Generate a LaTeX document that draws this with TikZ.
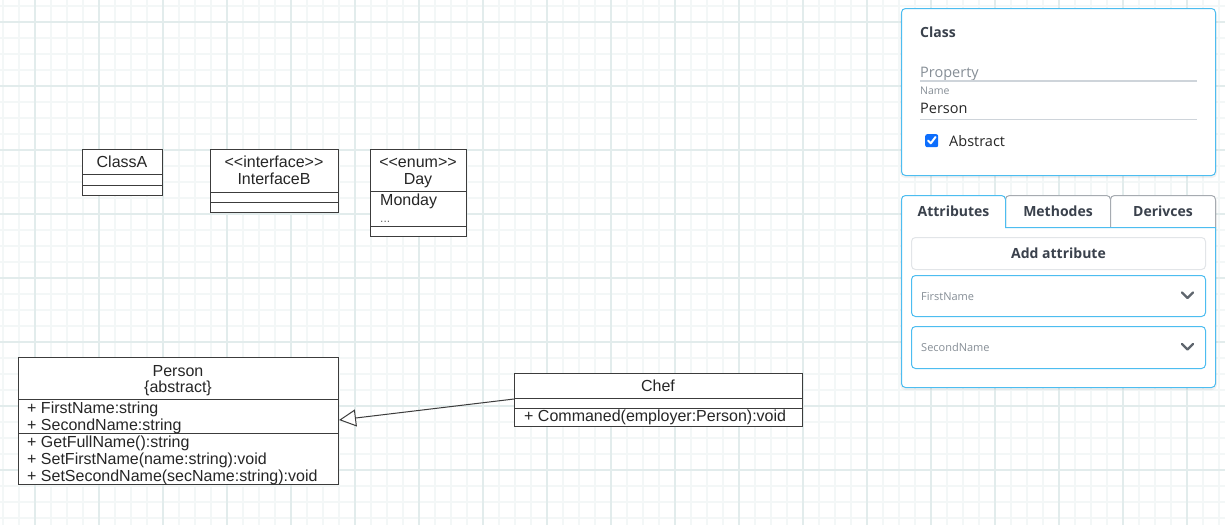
\documentclass[tikz,border=0pt]{standalone}
\usepackage{fontspec}
\setmainfont{Liberation Sans}
\newfontfamily\uifont{Open Sans}
\usetikzlibrary{arrows.meta}
\definecolor{gridminor}{HTML}{F3F7F7}
\definecolor{gridmajor}{HTML}{E2ECEC}
\definecolor{umlgray}{HTML}{3C3C3C}
\definecolor{cardblue}{HTML}{4DBDF0}
\definecolor{tabgray}{HTML}{A6ABB1}
\definecolor{uidark}{HTML}{3A414C}
\definecolor{uigray}{HTML}{868E96}
\definecolor{uiline}{HTML}{CED4DA}
\definecolor{btnline}{HTML}{E2E5E8}
\definecolor{chkblue}{HTML}{0D6EFD}
\definecolor{chevron}{HTML}{5F666E}
\tikzset{
  umlbox/.style={draw=umlgray, line width=1, fill=white, inner sep=0, anchor=north west},
  umlline/.style={draw=umlgray, line width=1},
  umltext/.style={inner sep=0, font=\fontsize{16}{17}\selectfont, text=black!85},
  card/.style={draw=cardblue, line width=1, fill=white, rounded corners=4},
  uitext/.style={inner sep=0, text=uidark, font=\uifont\fontsize{14}{16}\selectfont},
  uibold/.style={uitext, font=\uifont\bfseries\fontsize{14}{16}\selectfont},
  chev/.style={draw=chevron, line width=2.4, line cap=round, line join=round}
}
\begin{document}
\begin{tikzpicture}[x=1pt,y=-1pt]
\useasboundingbox (0,0) rectangle (1225,525);
\fill[white] (0,0) rectangle (1225,525);
% grid
\foreach \x in {3,19,...,1225} \draw[gridminor, line width=1.2] (\x,0) -- (\x,525);
\foreach \y in {6,22,...,525} \draw[gridminor, line width=1.2] (0,\y) -- (1225,\y);
\foreach \x in {35,99,...,1225} \draw[gridmajor, line width=1.2] (\x,0) -- (\x,525);
\foreach \y in {22,86,...,525} \draw[gridmajor, line width=1.2] (0,\y) -- (1225,\y);

% ClassA
\node[umlbox, minimum width=80, minimum height=46] (classA) at (82,149) {};
\draw[umlline] (82,174) -- (162,174);
\draw[umlline] (82,185) -- (162,185);
\node[umltext, anchor=base] (classAname) at (122,167) {ClassA};

% InterfaceB
\node[umlbox, minimum width=128, minimum height=63] (ifaceB) at (210,149) {};
\draw[umlline] (210,192) -- (338,192);
\draw[umlline] (210,202) -- (338,202);
\node[umltext, anchor=base] (ifaceSt) at (274,167) {<{}<interface>{}>};
\node[umltext, anchor=base] (ifaceName) at (274,184) {InterfaceB};

% Day
\node[umlbox, minimum width=96, minimum height=87] (day) at (370,149) {};
\draw[umlline] (370,191) -- (466,191);
\draw[umlline] (370,226) -- (466,226);
\node[umltext, anchor=base] (daySt) at (418,167) {<{}<enum>{}>};
\node[umltext, anchor=base] (dayName) at (418,184) {Day};
\node[umltext, anchor=base west] (dayMon) at (380,205) {Monday};
\node[umltext, anchor=base west, font=\fontsize{12}{12}\selectfont, text=black!60] (dayDots) at (380,222) {...};

% Person
\node[umlbox, minimum width=320, minimum height=127] (person) at (18,357) {};
\draw[umlline] (18,399) -- (338,399);
\draw[umlline] (18,433) -- (338,433);
\node[umltext, anchor=base] (pName) at (178,376.5) {Person};
\node[umltext, anchor=base] (pAbs) at (178,392.5) {\{abstract\}};
\node[umltext, anchor=base west] (pA1) at (27,413) {+ FirstName:string};
\node[umltext, anchor=base west] (pA2) at (27,430) {+ SecondName:string};
\node[umltext, anchor=base west] (pM1) at (27,447) {+ GetFullName():string};
\node[umltext, anchor=base west] (pM2) at (27,464) {+ SetFirstName(name:string):void};
\node[umltext, anchor=base west] (pM3) at (27,481) {+ SetSecondName(secName:string):void};

% Chef
\node[umlbox, minimum width=288, minimum height=53] (chef) at (514,373) {};
\draw[umlline] (514,398) -- (802,398);
\draw[umlline] (514,408) -- (802,408);
\node[umltext, anchor=base] (cName) at (658,391.5) {Chef};
\node[umltext, anchor=base west] (cM1) at (524,421) {+ Commaned(employer:Person):void};

% generalization
\coordinate (chefL) at (chef.west |- 0,399);
\coordinate (personR) at (person.east |- 0,420);
\draw[umlline, -{Triangle[open, length=17, width=17, fill=white]}] (chefL) -- (personR);

% ---------- right panel ----------
% card 1 shadow + card
\fill[black, opacity=0.05, rounded corners=5] (900,10) rectangle (1217,178);
\draw[card] (901.5,8.5) rectangle (1215.5,175.5);
\node[uibold, anchor=base west] (clsTitle) at (920,37) {Class};
\node[uitext, anchor=base west, text=uigray, font=\uifont\fontsize{14.5}{16}\selectfont] (propLbl) at (920,77.5) {Property};
\draw[uiline, line width=1.5] (920,81) -- (1197,81);
\node[uitext, anchor=base west, text=uigray, font=\uifont\fontsize{10.5}{12}\selectfont] (nameLbl) at (920,94) {Name};
\node[uitext, anchor=base west, text=black!85, font=\uifont\fontsize{14.5}{16}\selectfont] (nameVal) at (920,113) {Person};
\draw[uiline, line width=1.5] (920,119.5) -- (1197,119.5);
\node[fill=chkblue, rounded corners=2, minimum size=13, inner sep=0, anchor=north west] (chk) at (925,134) {};
\draw[white, line width=2, line cap=round, line join=round] (928,140.5) -- (930.8,143.3) -- (935.5,137);
\node[uitext, anchor=base west, text=black!85, font=\uifont\fontsize{14.5}{16}\selectfont] (absLbl) at (949,146) {Abstract};

% card 2 shadow
\fill[black, opacity=0.05, rounded corners=5] (900,197) rectangle (1217,390);
% inactive tabs
\draw[draw=tabgray, line width=1, fill=white, rounded corners=4] (1005.5,227.5) -- (1005.5,195.5) -- (1110.5,195.5) -- (1110.5,227.5);
\draw[draw=tabgray, line width=1, fill=white, rounded corners=4] (1110.5,227.5) -- (1110.5,195.5) -- (1215.5,195.5) -- (1215.5,227.5);
% card outline with active tab
\draw[draw=cardblue, line width=1, fill=white, rounded corners=4]
  (901.5,300) -- (901.5,195.5) -- (1005.5,195.5) [sharp corners] -- (1005.5,227.5) -- (1215.5,227.5) [rounded corners=4] -- (1215.5,387.5) -- (901.5,387.5) -- cycle;
\node[uibold, anchor=base] (tabAttr) at (953.5,216.5) {Attributes};
\node[uibold, anchor=base] (tabMeth) at (1058,216.5) {Methodes};
\node[uibold, anchor=base] (tabDer) at (1163,216.5) {Derivces};

% add attribute button
\draw[draw=btnline, line width=1, fill=white, rounded corners=4] (911.5,237.5) rectangle (1205.5,269.5);
\node[uibold, anchor=base] (addBtn) at (1058.5,258.5) {Add attribute};

% dropdowns
\draw[card] (911.5,275.5) rectangle (1205.5,316.5);
\node[uitext, anchor=base west, text=uigray, font=\uifont\fontsize{11}{12}\selectfont] (dd1) at (921,300.5) {FirstName};
\draw[chev] (1182,292.5) -- (1187.5,298) -- (1193,292.5);
\draw[card] (911.5,326.5) rectangle (1205.5,368.5);
\node[uitext, anchor=base west, text=uigray, font=\uifont\fontsize{11}{12}\selectfont] (dd2) at (921,351.5) {SecondName};
\draw[chev] (1182,344) -- (1187.5,349.5) -- (1193,344);
\end{tikzpicture}
\end{document}
